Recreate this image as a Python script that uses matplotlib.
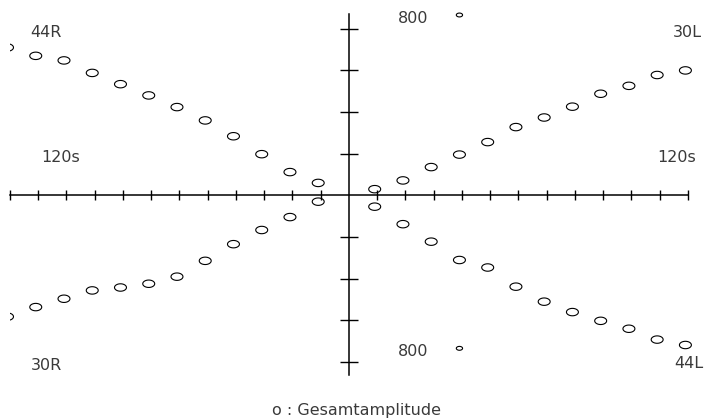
import numpy as np
import matplotlib
matplotlib.use('Agg')
import matplotlib.pyplot as plt
from matplotlib.path import Path
from matplotlib.transforms import offset_copy

# Reading positions along the horizontal axis (tick units)
x_left = [-12, -11, -10, -9, -8, -7, -6, -5, -4, -3, -2, -1]
x_right = [1, 2, 3, 4, 5, 6, 7, 8, 9, 10, 11, 12]

# Total amplitude for the four positions (vertical tick units)
amp_44r = [3.55, 3.35, 3.24, 2.94, 2.67, 2.40, 2.12, 1.80, 1.42, 0.99, 0.56, 0.30]
amp_30r = [-2.91, -2.68, -2.48, -2.28, -2.21, -2.12, -1.95, -1.57, -1.17, -0.83, -0.52, -0.15]
amp_30l = [0.15, 0.36, 0.68, 0.98, 1.28, 1.64, 1.87, 2.13, 2.44, 2.63, 2.89, 3.00]
amp_44l = [-0.27, -0.69, -1.11, -1.55, -1.73, -2.19, -2.55, -2.80, -3.01, -3.20, -3.46, -3.59]

# 800 reference marks
ref_x = [4, 4]
ref_y = [4.33, -3.67]
ref_label = '800'

x_ticks = x_left + x_right
y_ticks = [-4, -3, -2, -1, 1, 2, 3, 4]

W, H = 717, 420
fig = plt.figure(figsize=(W / 100, H / 100), dpi=100)
ax = fig.add_axes([10 / W, 0, (W - 10) / W, 1])
ax.set_xlim(-11.98, 13.03)
ax.set_ylim(-5.39, 4.69)

# crossed axes through the origin, plotter style
for side in ('top', 'right'):
    ax.spines[side].set_visible(False)
ax.spines['left'].set_position(('data', 0))
ax.spines['bottom'].set_position(('data', 0))
ax.spines['bottom'].set_bounds(-12, 12)
ax.spines['left'].set_bounds(-4.32, 4.35)
for side in ('left', 'bottom'):
    ax.spines[side].set_linewidth(1.1)
    ax.spines[side].set_clip_on(False)
ax.set_xticks(x_ticks)
ax.set_yticks(y_ticks)
ax.tick_params(axis='x', direction='inout', length=7.2, width=1.0,
               labelbottom=False)
ax.tick_params(axis='y', direction='inout', length=13, width=1.0,
               labelleft=False)

# flat ellipse marker like the plotter's "o"
theta = np.linspace(0, 2 * np.pi, 60)
ellipse = Path(np.column_stack([np.cos(theta), 0.62 * np.sin(theta)]), closed=True)
shifted = offset_copy(ax.transData, fig=fig, x=-2.5, y=0, units='dots')

style = dict(marker=ellipse, s=8.6 ** 2, facecolors='none',
             edgecolors='black', linewidths=0.8, transform=shifted)
ax.scatter(x_left, amp_44r, **style)
ax.scatter(x_left, amp_30r, **style)
ax.scatter(x_right, amp_30l, **style)
ax.scatter(x_right, amp_44l, **style)

ax.scatter(ref_x, ref_y, marker=ellipse, s=4.5 ** 2, facecolors='none',
           edgecolors='black', linewidths=0.8, transform=shifted)

font = dict(fontsize=11.5, family='DejaVu Sans', color='#3a3a3a')
txt = dict(va='center', clip_on=False, **font)
ax.text(-10.73, 3.91, '44R', ha='center', **txt)
ax.text(-10.72, -4.09, '30R', ha='center', **txt)
ax.text(11.47, 3.90, '30L', ha='left', **txt)
ax.text(11.51, -4.04, '44L', ha='left', **txt)
ax.text(-10.20, 0.91, '120s', ha='center', **txt)
ax.text(11.61, 0.91, '120s', ha='center', **txt)
for ry in ref_y:
    ax.text(2.26, ry - 0.08, ref_label, ha='center', **txt)

fig.text(357 / W, 1 - 410 / H, 'o : Gesamtamplitude', ha='center',
         va='center', **font)

fig.savefig('out.png', dpi=100, facecolor='white')
